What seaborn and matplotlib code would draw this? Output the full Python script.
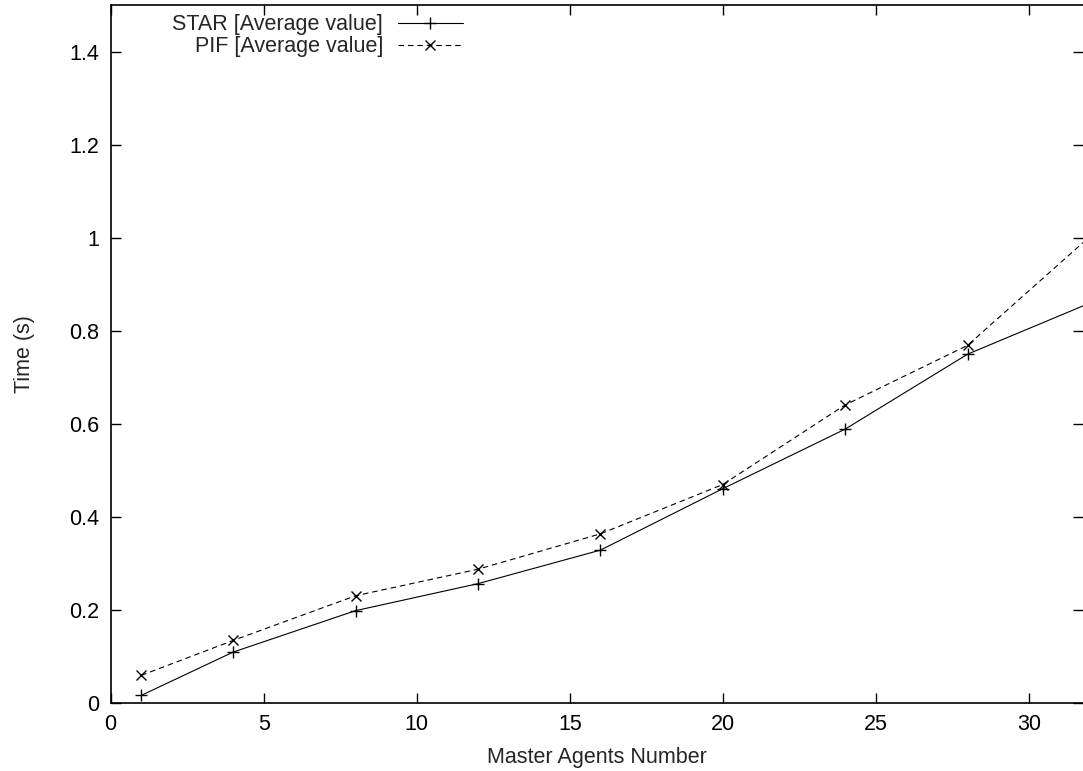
import pandas as pd
import matplotlib
matplotlib.use('Agg')
import matplotlib.pyplot as plt
import seaborn as sns
from matplotlib.ticker import FormatStrFormatter, MultipleLocator

# valeurs
agents = [1, 4, 8, 12, 16, 20, 24, 28, 32]
star_moy = [0.017, 0.110, 0.199, 0.257, 0.329, 0.461, 0.589, 0.750, 0.860]
pif_moy = [0.060, 0.135, 0.231, 0.288, 0.364, 0.470, 0.641, 0.769, 1.003]

star_label = 'STAR [Average value]'
pif_label = 'PIF [Average value]'

sns.set_style('ticks')
plt.rcParams['font.family'] = ['Liberation Sans', 'DejaVu Sans']
plt.rcParams['font.size'] = 15.5

df = pd.DataFrame({'agents': agents, 'star': star_moy, 'pif': pif_moy})

fig = plt.figure(figsize=(10.83, 7.71), dpi=100)
ax = fig.add_axes([0.1022, 0.0878, 0.8978, 0.9057])

sns.lineplot(data=df, x='agents', y='star', ax=ax, color='black', lw=0.8,
             marker='+', markersize=9, markeredgewidth=1.0, markeredgecolor='black',
             label=star_label)
sns.lineplot(data=df, x='agents', y='pif', ax=ax, color='black', lw=0.8,
             linestyle=(0, (5, 3.5)), marker='x', markersize=7, markeredgewidth=1.0,
             markeredgecolor='black', label=pif_label)

ax.set_xlim(0, 31.77)
ax.set_ylim(0, 1.5)
ax.xaxis.set_major_locator(MultipleLocator(5))
ax.yaxis.set_major_locator(MultipleLocator(0.2))
ax.yaxis.set_major_formatter(FormatStrFormatter('%g'))
ax.tick_params(direction='in', length=7, width=1.0, top=True, right=True,
               labelsize=15.5, pad=8, colors='black')
for side in ['left', 'bottom', 'top']:
    ax.spines[side].set_linewidth(1.2)
    ax.spines[side].set_color('black')
ax.spines['right'].set_visible(False)

ax.set_xlabel('Master Agents Number', labelpad=8)
ax.set_ylabel('Time (s)', labelpad=25)

leg = ax.legend(loc='upper right', bbox_to_anchor=(0.362, 0.987), frameon=False,
                markerfirst=False, handlelength=3.0, handletextpad=0.7,
                borderpad=0, borderaxespad=0, labelspacing=0.05)

fig.savefig('out.png', dpi=100)
